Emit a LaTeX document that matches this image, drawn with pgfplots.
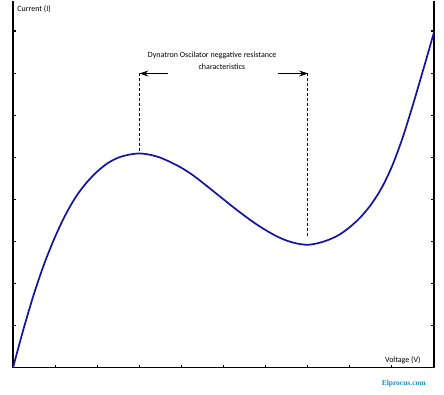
\documentclass[border=0pt]{standalone}
\usepackage{pgfplots}
\pgfplotsset{compat=1.18}
\usepackage{fontspec}
\setmainfont{Carlito}
\newfontfamily\serifb{Liberation Serif}
\usetikzlibrary{arrows.meta}
\definecolor{curveblue}{RGB}{18,18,165}
\definecolor{siteblue}{RGB}{26,140,200}
\begin{document}
\begin{tikzpicture}
\begin{axis}[
  width=421pt, height=367pt, scale only axis,
  xmin=0, xmax=10, ymin=0, ymax=8.72,
  axis x line*=bottom, axis y line*=box,
  axis line style={line width=1.4pt, -},
  xtick={1,...,9}, ytick={1,...,8},
  xticklabels={}, yticklabels={},
  tick align=inside, major tick length=3pt,
  tick style={line width=1.1pt, black},
  ytick pos=both,
  clip=false,
]
\addplot[curveblue, line width=1.7pt, smooth] coordinates {
(0,0) (0.25,0.92) (0.5,1.76) (0.75,2.49) (1.0,3.11) (1.25,3.64)
(1.5,4.07) (1.75,4.40) (2.0,4.66) (2.25,4.86) (2.5,4.99) (2.75,5.06)
(3.0,5.09) (3.25,5.06) (3.5,4.99) (3.75,4.88) (4.0,4.75) (4.25,4.59)
(4.5,4.40) (4.75,4.20) (5.0,4.00) (5.25,3.80) (5.5,3.61) (5.75,3.43)
(6.0,3.27) (6.25,3.13) (6.5,3.02) (6.75,2.95) (7.0,2.92) (7.25,2.96)
(7.5,3.04) (7.75,3.16) (8.0,3.34) (8.25,3.57) (8.5,3.87) (8.75,4.26)
(9.0,4.78) (9.25,5.45) (9.5,6.25) (9.75,7.10) (10,7.97)};
\addplot[black, line width=0.9pt, dash pattern=on 3pt off 2pt] coordinates {(3,7.0) (3,5.15)};
\addplot[black, line width=0.9pt, dash pattern=on 3pt off 2pt] coordinates {(7,7.0) (7,3.08)};
\addplot[black, line width=1.1pt, -{Stealth[length=9pt,width=6pt]}] coordinates {(3.68,6.99) (3.0,6.99)};
\addplot[black, line width=1.1pt, -{Stealth[length=9pt,width=6pt]}] coordinates {(6.3,6.99) (7.01,6.99)};
\node[font=\fontsize{8}{9}\selectfont] at (axis cs:4.73,7.41) {Dynatron Oscilator neggative resistance};
\node[font=\fontsize{8}{9}\selectfont] at (axis cs:4.96,7.15) {characteristics};
\node[font=\fontsize{8}{9}\selectfont, anchor=west, inner sep=0pt] at (axis cs:0.1,8.53) {Current (I)};
\node[font=\fontsize{8}{9}\selectfont] at (axis cs:9.26,0.17) {Voltage (V)};
\node[font=\serifb\bfseries\fontsize{7.5}{9}\selectfont, text=siteblue] at (axis cs:9.28,-0.38) {Elprocus.com};
\path (rel axis cs:0,0) ++(-13pt,-27pt) coordinate (bl);
\path (rel axis cs:1,1) ++(10pt,0pt) coordinate (tr);
\end{axis}
\path[use as bounding box] (bl) rectangle (tr);
\end{tikzpicture}
\end{document}
